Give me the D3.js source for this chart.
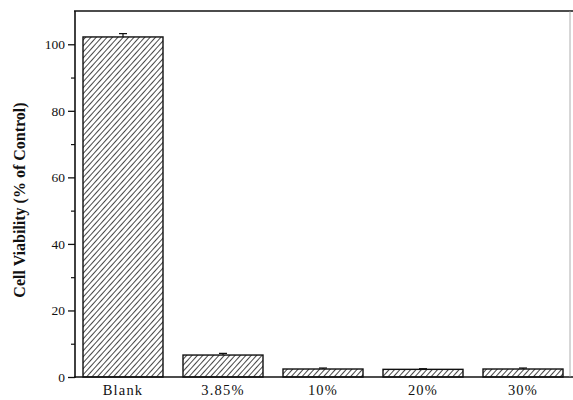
<!DOCTYPE html>
<html>
<head>
<meta charset="utf-8">
<script src="https://cdn.jsdelivr.net/npm/d3@7/dist/d3.min.js"></script>
<style>
  html, body { margin: 0; padding: 0; background: #fff; }
  svg { display: block; }
  text { font-family: "Liberation Serif", "Times New Roman", serif; fill: #111; }
</style>
</head>
<body>
<svg id="chart" width="573" height="400"></svg>
<script>
// Cell viability for each treatment group
const categories = ["Blank", "3.85%", "10%", "20%", "30%"];
const viability = [102.2, 6.6, 2.4, 2.3, 2.4];
const errors = [1.0, 0.5, 0.3, 0.2, 0.3];
const yTicks = [0, 20, 40, 60, 80, 100];
const yMinorTicks = [10, 30, 50, 70, 90];
const yLabel = "Cell Viability (% of Control)";

const svg = d3.select("#chart");
const plotLeft = 75, plotRight = 570, plotTop = 11, plotBottom = 377;

const x = d3.scaleBand()
  .domain(categories)
  .range([73, 573])
  .paddingInner(0.2)
  .paddingOuter(0.1);

const y = d3.scaleLinear().domain([0, 110]).range([plotBottom, plotTop]);

// Diagonal hatch fill for the bars
const defs = svg.append("defs");
const pat = defs.append("pattern")
  .attr("id", "hatch")
  .attr("patternUnits", "userSpaceOnUse")
  .attr("width", 4).attr("height", 4)
  .attr("patternTransform", "rotate(42)");
pat.append("rect").attr("width", 4).attr("height", 4).attr("fill", "#fff");
pat.append("line")
  .attr("x1", 0.5).attr("y1", 0).attr("x2", 0.5).attr("y2", 4)
  .attr("stroke", "#333").attr("stroke-width", 0.9);

// Bars
svg.append("g").selectAll("rect")
  .data(categories)
  .join("rect")
  .attr("x", d => x(d))
  .attr("y", (d, i) => y(viability[i]))
  .attr("width", x.bandwidth())
  .attr("height", (d, i) => y(0) - y(viability[i]))
  .attr("fill", "url(#hatch)")
  .attr("stroke", "#111")
  .attr("stroke-width", 1.4);

// Upper error bars
const eb = svg.append("g").attr("stroke", "#111").attr("stroke-width", 1.2);
categories.forEach((c, i) => {
  const cx = x(c) + x.bandwidth() / 2;
  eb.append("line")
    .attr("x1", cx).attr("x2", cx)
    .attr("y1", y(viability[i])).attr("y2", y(viability[i] + errors[i]));
  eb.append("line")
    .attr("x1", cx - 4).attr("x2", cx + 4)
    .attr("y1", y(viability[i] + errors[i])).attr("y2", y(viability[i] + errors[i]));
});

// Y axis with major and minor ticks
const yAxis = svg.append("g")
  .attr("transform", `translate(${plotLeft},0)`)
  .call(d3.axisLeft(y).tickValues(yTicks).tickSize(7).tickPadding(3).tickFormat(d3.format("d")));
yAxis.select(".domain").remove();
yAxis.selectAll("line").attr("stroke", "#111").attr("stroke-width", 1.3);
yAxis.selectAll("text").attr("font-size", 13.5).style("font-family", "Liberation Serif, serif");

svg.append("g")
  .attr("transform", `translate(${plotLeft},0)`)
  .call(d3.axisLeft(y).tickValues(yMinorTicks).tickSize(4).tickFormat(""))
  .call(g => g.select(".domain").remove())
  .selectAll("line").attr("stroke", "#111").attr("stroke-width", 1.2);

// X axis labels
const xAxis = svg.append("g")
  .attr("transform", `translate(0,${plotBottom})`)
  .call(d3.axisBottom(x).tickSize(0).tickPadding(8));
xAxis.select(".domain").remove();
xAxis.selectAll("text")
  .attr("font-size", 14.5)
  .attr("letter-spacing", 1.2)
  .style("font-family", "Liberation Serif, serif");

// Frame
const frame = svg.append("g").attr("stroke", "#111").attr("fill", "none");
frame.append("line").attr("x1", plotLeft).attr("x2", plotLeft).attr("y1", plotTop).attr("y2", plotBottom + 1).attr("stroke-width", 1.6);
frame.append("line").attr("x1", plotLeft - 1).attr("x2", 573).attr("y1", plotBottom).attr("y2", plotBottom).attr("stroke-width", 1.6);
frame.append("line").attr("x1", plotLeft - 1).attr("x2", 573).attr("y1", plotTop).attr("y2", plotTop).attr("stroke-width", 1.5);
frame.append("line").attr("x1", plotRight).attr("x2", plotRight).attr("y1", plotTop).attr("y2", plotBottom).attr("stroke-width", 0.8).attr("stroke", "#999");

// Y axis title
svg.append("text")
  .attr("transform", `translate(25,${(plotTop + plotBottom) / 2 + 6}) rotate(-90)`)
  .attr("text-anchor", "middle")
  .attr("font-size", 16)
  .attr("font-weight", "bold")
  .text(yLabel);
</script>
</body>
</html>
